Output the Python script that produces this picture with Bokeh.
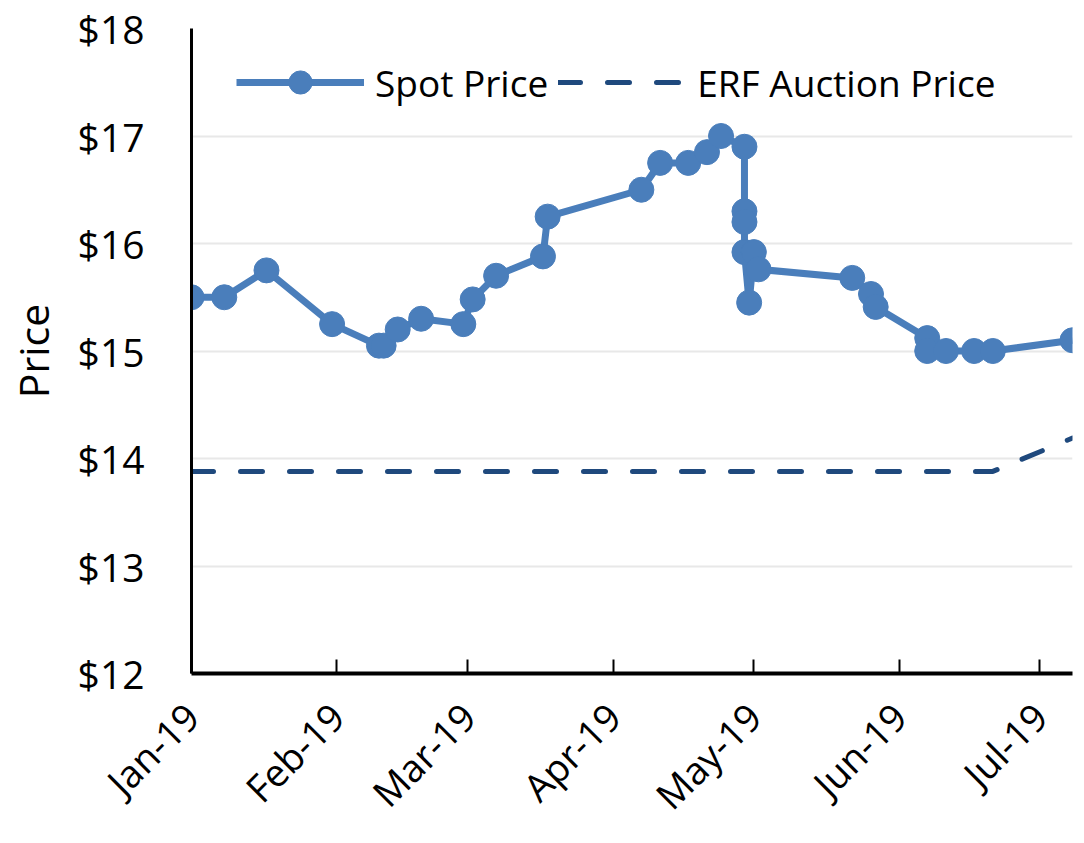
import pandas as pd
from bokeh.plotting import figure
from bokeh.models import (Range1d, FixedTicker, DatetimeTickFormatter,
                          NumeralTickFormatter, Legend, LegendItem)
from bokeh.embed import file_html
from bokeh.resources import INLINE
import math

# ---- data ----
spot_dates = ["2019-01-01", "2019-01-08", "2019-01-17", "2019-01-31", "2019-02-10",
              "2019-02-11", "2019-02-14", "2019-02-19", "2019-02-28", "2019-03-02",
              "2019-03-07", "2019-03-17", "2019-03-18", "2019-04-07", "2019-04-11",
              "2019-04-17", "2019-04-21", "2019-04-24", "2019-04-29", "2019-04-29",
              "2019-04-29", "2019-04-29", "2019-04-30", "2019-05-01", "2019-05-02",
              "2019-05-22", "2019-05-26", "2019-05-27", "2019-06-07", "2019-06-07",
              "2019-06-11", "2019-06-17", "2019-06-21", "2019-07-08"]
spot_price = [15.50, 15.50, 15.75, 15.25, 15.05, 15.05, 15.20, 15.30, 15.25, 15.48,
              15.70, 15.88, 16.25, 16.50, 16.75, 16.75, 16.85, 17.00, 16.90, 16.30,
              16.20, 15.92, 15.45, 15.92, 15.76, 15.68, 15.53, 15.41, 15.12, 15.00,
              15.00, 15.00, 15.00, 15.10]

erf_dates = ["2019-01-01", "2019-06-21", "2019-07-08"]
erf_price = [13.88, 13.88, 14.19]

month_ticks = ["2019-01-01", "2019-02-01", "2019-03-01", "2019-04-01",
               "2019-05-01", "2019-06-01", "2019-07-01"]
x_start, x_end = "2019-01-01", "2019-07-08"
y_ticks = [12, 13, 14, 15, 16, 17, 18]

FONT = "Open Sans"
SPOT_COLOR = "#4a7ebb"
ERF_COLOR = "#1f497d"

sd = pd.to_datetime(spot_dates)
ed = pd.to_datetime(erf_dates)

p = figure(width=1080, height=843, x_axis_type="datetime",
           output_backend="svg", toolbar_location=None,
           x_range=Range1d(pd.Timestamp(x_start), pd.Timestamp(x_end)),
           y_range=Range1d(12, 18),
           min_border_left=191, min_border_right=8,
           min_border_top=28, min_border_bottom=170)
p.outline_line_color = None
p.background_fill_color = "white"

r_erf = p.line(ed, erf_price, line_color=ERF_COLOR, line_width=5,
               line_dash="22 27", line_cap="round")
r_spot_l = p.line(sd, spot_price, line_color=SPOT_COLOR, line_width=7,
                  line_join="round")
r_spot_m = p.scatter(sd, spot_price, size=25, fill_color=SPOT_COLOR,
                     line_color=SPOT_COLOR)

# axes
xa = p.xaxis[0]
xa.ticker = FixedTicker(ticks=[pd.Timestamp(t).value / 1e6 for t in month_ticks])
fmt = "%b-%y"
xa.formatter = DatetimeTickFormatter(days=fmt, months=fmt, years=fmt,
                                     hours=fmt, minutes=fmt)
xa.major_label_orientation = math.pi / 4
xa.major_label_text_font = FONT
xa.major_label_text_font_size = "38px"
xa.major_label_text_color = "black"
xa.major_label_standoff = 36
xa.axis_line_color = "black"
xa.axis_line_width = 4
xa.major_tick_in = 14
xa.major_tick_out = 0
xa.major_tick_line_width = 2
xa.major_tick_line_color = "black"
xa.minor_tick_line_color = None

ya = p.yaxis[0]
ya.ticker = FixedTicker(ticks=y_ticks)
ya.formatter = NumeralTickFormatter(format="$0")
ya.major_label_text_font = FONT
ya.major_label_text_font_size = "39px"
ya.major_label_text_color = "black"
ya.major_label_standoff = 41
ya.axis_line_color = "black"
ya.axis_line_width = 3
ya.major_tick_line_color = None
ya.minor_tick_line_color = None
ya.axis_label = "Price"
ya.axis_label_text_font = FONT
ya.axis_label_text_font_size = "41px"
ya.axis_label_text_font_style = "normal"
ya.axis_label_text_color = "black"
ya.axis_label_standoff = 14

p.xgrid.grid_line_color = None
p.ygrid.grid_line_color = "#e8e8e8"
p.ygrid.grid_line_width = 2

legend = Legend(items=[
    LegendItem(label="Spot Price", renderers=[r_spot_l, r_spot_m]),
    LegendItem(label="ERF Auction Price", renderers=[r_erf]),
], location=(45, 562), orientation="horizontal")
legend.label_text_font = FONT
legend.label_text_font_size = "37px"
legend.label_text_color = "black"
legend.glyph_width = 128
legend.glyph_height = 58
legend.label_standoff = 11
legend.spacing = 10
legend.margin = 0
legend.padding = 10
legend.border_line_color = None
legend.background_fill_alpha = 0
p.add_layout(legend)

open("out.html", "w").write(file_html(p, INLINE))
